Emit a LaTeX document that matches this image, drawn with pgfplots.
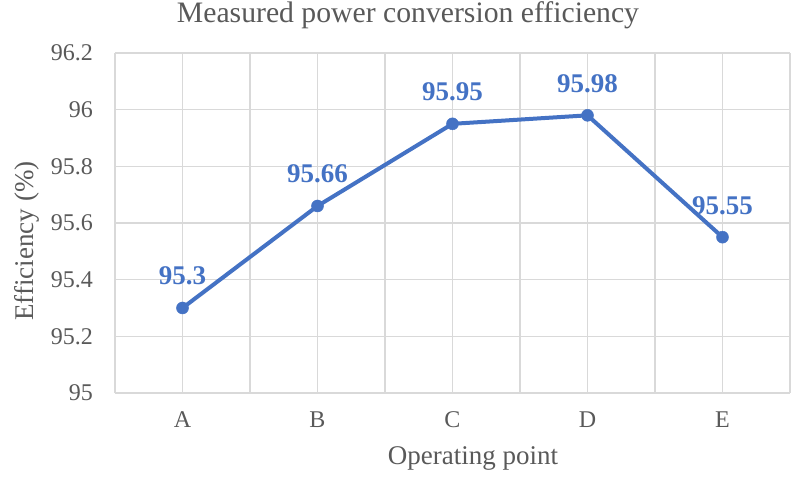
\documentclass[border=0pt]{standalone}
\usepackage{fontspec}
\setmainfont{Liberation Serif}
\usepackage{pgfplots}
\pgfplotsset{compat=1.18}
\definecolor{ser}{HTML}{4472C4}
\definecolor{grd}{HTML}{D9D9D9}
\definecolor{txt}{HTML}{595959}
\begin{document}
\begin{tikzpicture}[x=1pt,y=1pt]
\useasboundingbox (0,0) rectangle (800,478);
\begin{axis}[
  at={(115pt,85pt)}, anchor=south west,
  scale only axis, width=675pt, height=340pt,
  xmin=-0.5, xmax=4.5, ymin=95, ymax=96.2,
  xtick={0,1,2,3,4}, xticklabels={A,B,C,D,E},
  minor xtick={-0.5,0.5,1.5,2.5,3.5,4.5},
  ytick={95,95.2,95.4,95.6,95.8,96,96.2},
  yticklabels={95,95.2,95.4,95.6,95.8,96,96.2},
  xmajorgrids, xminorgrids, ymajorgrids,
  grid style={draw=grd, line width=1.3pt},
  minor grid style={draw=grd, line width=1.3pt},
  axis line style={draw=none},
  tick style={draw=none},
  major tick length=0pt, minor tick length=0pt,
  xticklabel style={font=\fontsize{24}{24}\selectfont, text=txt, anchor=base, inner sep=0pt, yshift=-35pt},
  yticklabel style={font=\fontsize{24}{24}\selectfont, text=txt, anchor=east, inner sep=0pt, xshift=-22pt},
  clip=false,
]
\addplot[color=ser, line width=4pt, mark=*, mark size=6pt,
  mark options={solid, fill=ser, draw=ser, line width=0.5pt},
  point meta=explicit symbolic,
  nodes near coords={\textbf{\pgfplotspointmeta}},
  nodes near coords style={font=\fontsize{27}{27}\selectfont, text=ser, anchor=base, inner sep=0pt, yshift=23pt},
] coordinates {(0,95.3) [95.3] (1,95.66) [95.66] (2,95.95) [95.95] (3,95.98) [95.98] (4,95.55) [95.55]};
\end{axis}
\node[anchor=base, text=txt, font=\fontsize{29.7}{29.7}\selectfont, inner sep=0pt] at (408,455) {Measured power conversion efficiency};
\node[anchor=base, text=txt, font=\fontsize{27}{27}\selectfont, inner sep=0pt] at (473,13) {Operating point};
\node[anchor=base, rotate=90, text=txt, font=\fontsize{27}{27}\selectfont, inner sep=0pt] at (33,237) {Efficiency (\%)};
\end{tikzpicture}
\end{document}
